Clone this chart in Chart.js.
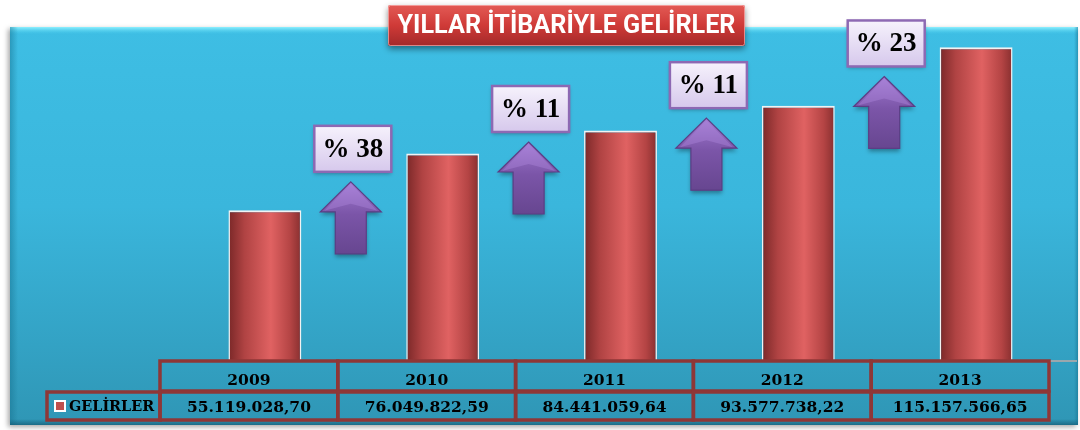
<!DOCTYPE html>
<html>
<head>
<meta charset="utf-8">
<script src="https://cdn.jsdelivr.net/npm/chart.js@4/dist/chart.umd.min.js"></script>
<style>
  html, body { margin: 0; padding: 0; background: #fff; }
  #wrap { width: 1080px; height: 430px; }
</style>
</head>
<body>
<div id="wrap"><canvas id="incomeChart" width="1080" height="430"></canvas></div>
<script>
// yearly income
const years = ["2009", "2010", "2011", "2012", "2013"];
const incomes = [55119028.70, 76049822.59, 84441059.64, 93577738.22, 115157566.65];
const incomeLabels = ["55.119.028,70", "76.049.822,59", "84.441.059,64", "93.577.738,22", "115.157.566,65"];
const growthLabels = ["% 38", "% 11", "% 11", "% 23"];
const seriesName = "GELİRLER";
const chartTitle = "YILLAR İTİBARİYLE GELİRLER";

const BAR_PCT = 0.41;

// cylinder-like shading across each bar
function barFill(context) {
    const chart = context.chart;
    const area = chart.chartArea;
    if (!area || context.dataIndex === undefined) return "#c0504d";
    const x = chart.scales.x;
    const cx = x.getPixelForValue(context.dataIndex);
    const half = (area.width / years.length) * BAR_PCT / 2;
    const g = chart.ctx.createLinearGradient(cx - half, 0, cx + half, 0);
    g.addColorStop(0, "#7a2828");
    g.addColorStop(0.22, "#b04343");
    g.addColorStop(0.58, "#e06262");
    g.addColorStop(0.85, "#b44444");
    g.addColorStop(1, "#872f2f");
    return g;
}

// cyan panel behind everything
const panelBackground = {
    id: "panelBackground",
    beforeDraw(chart) {
        const ctx = chart.ctx;
        const l = 10, t = 27, r = 1078, b = 425;
        ctx.save();
        ctx.shadowColor = "rgba(0,0,0,0.35)";
        ctx.shadowBlur = 5;
        ctx.shadowOffsetX = -2;
        ctx.shadowOffsetY = 2;
        ctx.fillStyle = "#3bb8de";
        ctx.fillRect(l, t, r - l, b - t);
        ctx.restore();

        const g = ctx.createLinearGradient(0, t, 0, b);
        g.addColorStop(0, "#3ebee4");
        g.addColorStop(0.45, "#3ab6dc");
        g.addColorStop(0.8, "#33a2c4");
        g.addColorStop(1, "#2f96b5");
        ctx.fillStyle = g;
        ctx.fillRect(l, t, r - l, b - t);

        // bevel edges
        const top = ctx.createLinearGradient(0, t, 0, t + 7);
        top.addColorStop(0, "#8ff0ff");
        top.addColorStop(1, "rgba(80,210,240,0)");
        ctx.fillStyle = top;
        ctx.fillRect(l, t, r - l, 7);
        const left = ctx.createLinearGradient(l, 0, l + 8, 0);
        left.addColorStop(0, "rgba(20,110,140,0.45)");
        left.addColorStop(1, "rgba(20,110,140,0)");
        ctx.fillStyle = left;
        ctx.fillRect(l, t, 8, b - t);
        const bot = ctx.createLinearGradient(0, b - 6, 0, b);
        bot.addColorStop(0, "rgba(20,90,115,0)");
        bot.addColorStop(1, "rgba(20,90,115,0.7)");
        ctx.fillStyle = bot;
        ctx.fillRect(l, b - 6, r - l, 6);
        const right = ctx.createLinearGradient(r - 4, 0, r, 0);
        right.addColorStop(0, "rgba(20,110,140,0)");
        right.addColorStop(1, "rgba(20,110,140,0.5)");
        ctx.fillStyle = right;
        ctx.fillRect(r - 4, t, 4, b - t);
    }
};

function roundRect(ctx, x, y, w, h, r) {
    ctx.beginPath();
    ctx.moveTo(x + r, y);
    ctx.lineTo(x + w - r, y);
    ctx.quadraticCurveTo(x + w, y, x + w, y + r);
    ctx.lineTo(x + w, y + h - r);
    ctx.quadraticCurveTo(x + w, y + h, x + w - r, y + h);
    ctx.lineTo(x + r, y + h);
    ctx.quadraticCurveTo(x, y + h, x, y + h - r);
    ctx.lineTo(x, y + r);
    ctx.quadraticCurveTo(x, y, x + r, y);
    ctx.closePath();
}

function drawArrow(ctx, cx, tipY) {
    const headW = 61, shaftW = 31, headH = 30, total = 72;
    ctx.save();
    ctx.shadowColor = "rgba(0,0,0,0.35)";
    ctx.shadowBlur = 4;
    ctx.shadowOffsetY = 3;
    ctx.beginPath();
    ctx.moveTo(cx, tipY);
    ctx.lineTo(cx + headW / 2, tipY + headH);
    ctx.lineTo(cx + shaftW / 2, tipY + headH);
    ctx.lineTo(cx + shaftW / 2, tipY + total);
    ctx.lineTo(cx - shaftW / 2, tipY + total);
    ctx.lineTo(cx - shaftW / 2, tipY + headH);
    ctx.lineTo(cx - headW / 2, tipY + headH);
    ctx.closePath();
    const g = ctx.createLinearGradient(0, tipY, 0, tipY + total);
    g.addColorStop(0, "#a07ad0");
    g.addColorStop(0.45, "#7b55a8");
    g.addColorStop(1, "#674690");
    ctx.fillStyle = g;
    ctx.fill();
    ctx.restore();
    ctx.save();
    ctx.strokeStyle = "#5c3d84";
    ctx.lineWidth = 1.2;
    ctx.stroke();
    // small bevel highlight on the head
    ctx.beginPath();
    ctx.moveTo(cx, tipY + 2);
    ctx.lineTo(cx + headW / 2 - 4, tipY + headH - 1);
    ctx.lineTo(cx, tipY + headH - 8);
    ctx.lineTo(cx - headW / 2 + 4, tipY + headH - 1);
    ctx.closePath();
    ctx.fillStyle = "rgba(190,150,235,0.3)";
    ctx.fill();
    ctx.restore();
}

function drawGrowthBox(ctx, cx, bottom, text) {
    const w = 77, h = 46;
    const x = cx - w / 2, y = bottom - h;
    ctx.save();
    ctx.shadowColor = "rgba(0,0,0,0.3)";
    ctx.shadowBlur = 4;
    ctx.shadowOffsetY = 2;
    const g = ctx.createLinearGradient(0, y, 0, y + h);
    g.addColorStop(0, "#f6f2fc");
    g.addColorStop(1, "#d6c8ec");
    ctx.fillStyle = g;
    ctx.fillRect(x, y, w, h);
    ctx.restore();
    ctx.save();
    ctx.strokeStyle = "#8d69b3";
    ctx.lineWidth = 2.5;
    ctx.strokeRect(x, y, w, h);
    ctx.fillStyle = "#000";
    ctx.font = "bold 27px 'Liberation Serif', serif";
    ctx.textAlign = "center";
    ctx.textBaseline = "middle";
    ctx.fillText(text, cx, y + h / 2 + 1);
    ctx.restore();
}

const decorations = {
    id: "decorations",
    afterDatasetsDraw(chart) {
        const ctx = chart.ctx;
        const x = chart.scales.x, y = chart.scales.y;
        const area = chart.chartArea;
        const catW = area.width / years.length;

        // floor edge to the right of the table
        ctx.save();
        ctx.strokeStyle = "#9aa7ad";
        ctx.lineWidth = 2;
        ctx.beginPath();
        ctx.moveTo(1050, area.bottom + 1);
        ctx.lineTo(1077, area.bottom + 1);
        ctx.stroke();
        ctx.restore();

        // growth arrows and boxes between consecutive years
        for (let i = 0; i < growthLabels.length; i++) {
            const cx = (x.getPixelForValue(i) + x.getPixelForValue(i + 1)) / 2 - 3;
            const tip = (y.getPixelForValue(incomes[i]) + y.getPixelForValue(incomes[i + 1])) / 2;
            drawArrow(ctx, cx, tip);
            drawGrowthBox(ctx, cx + 2, tip - 10, growthLabels[i]);
        }

        // data table under the bars
        const headTop = area.bottom, headBot = area.bottom + 31, rowBot = area.bottom + 60;
        const border = "#8e3737";
        ctx.save();
        ctx.lineWidth = 3.5;
        ctx.strokeStyle = border;
        ctx.fillStyle = "#000";
        ctx.textAlign = "center";
        ctx.textBaseline = "middle";
        ctx.font = "bold 15.5px 'DejaVu Serif', serif";
        for (let i = 0; i < years.length; i++) {
            const left = x.getPixelForValue(i) - catW * 0.59;
            ctx.strokeRect(left, headTop + 1, catW, headBot - headTop - 1);
            ctx.strokeRect(left, headBot + 1, catW, rowBot - headBot - 1);
            ctx.fillText(years[i], left + catW / 2, (headTop + headBot) / 2 + 5);
            ctx.fillText(incomeLabels[i], left + catW / 2, (headBot + rowBot) / 2 + 2);
        }
        const firstLeft = x.getPixelForValue(0) - catW * 0.59;
        ctx.strokeRect(47, headBot + 1, firstLeft - 47, rowBot - headBot - 1);
        // legend key
        ctx.fillStyle = "#fff";
        ctx.fillRect(54, headBot + 9, 12, 12);
        ctx.fillStyle = "#c0504d";
        ctx.fillRect(56, headBot + 11, 8, 8);
        ctx.fillStyle = "#000";
        ctx.textAlign = "left";
        ctx.font = "bold 14.4px 'DejaVu Serif', serif";
        ctx.fillText(seriesName, 69, (headBot + rowBot) / 2 + 2);
        ctx.restore();

        // title banner
        const tl = 388, tt = 5, tw = 357, th = 41;
        ctx.save();
        ctx.shadowColor = "rgba(0,0,0,0.45)";
        ctx.shadowBlur = 6;
        ctx.shadowOffsetY = 3;
        const tg = ctx.createLinearGradient(0, tt, 0, tt + th);
        tg.addColorStop(0, "#e35a55");
        tg.addColorStop(0.5, "#cf3a37");
        tg.addColorStop(1, "#a3292a");
        ctx.fillStyle = tg;
        roundRect(ctx, tl, tt, tw, th, 2);
        ctx.fill();
        ctx.restore();
        ctx.save();
        ctx.strokeStyle = "rgba(255,200,200,0.6)";
        ctx.lineWidth = 1;
        roundRect(ctx, tl + 0.5, tt + 0.5, tw - 1, th - 1, 2);
        ctx.stroke();
        ctx.font = "bold 26px Roboto, 'Noto Sans', sans-serif";
        const mw = ctx.measureText(chartTitle).width;
        const sx = Math.min(1, 338 / mw);
        ctx.translate(tl + tw / 2, tt + th / 2 + 1);
        ctx.scale(sx, 1);
        ctx.fillStyle = "#fff";
        ctx.textAlign = "center";
        ctx.textBaseline = "middle";
        ctx.fillText(chartTitle, 0, 0);
        ctx.restore();
    }
};

const ctx = document.getElementById("incomeChart").getContext("2d");
new Chart(ctx, {
    type: "bar",
    data: {
        labels: years,
        datasets: [{
            label: seriesName,
            data: incomes,
            backgroundColor: barFill,
            borderColor: "#f2f2f2",
            borderWidth: { top: 2, left: 1.5, right: 1.5, bottom: 0 },
            barPercentage: BAR_PCT,
            categoryPercentage: 1
        }]
    },
    options: {
        responsive: false,
        animation: false,
        layout: { padding: { left: 176, right: 15, top: 34, bottom: 70 } },
        scales: {
            x: { display: false },
            y: { display: false, min: 0, max: 120000000 }
        },
        plugins: {
            legend: { display: false },
            tooltip: { enabled: false }
        }
    },
    plugins: [panelBackground, decorations]
});
</script>
</body>
</html>
